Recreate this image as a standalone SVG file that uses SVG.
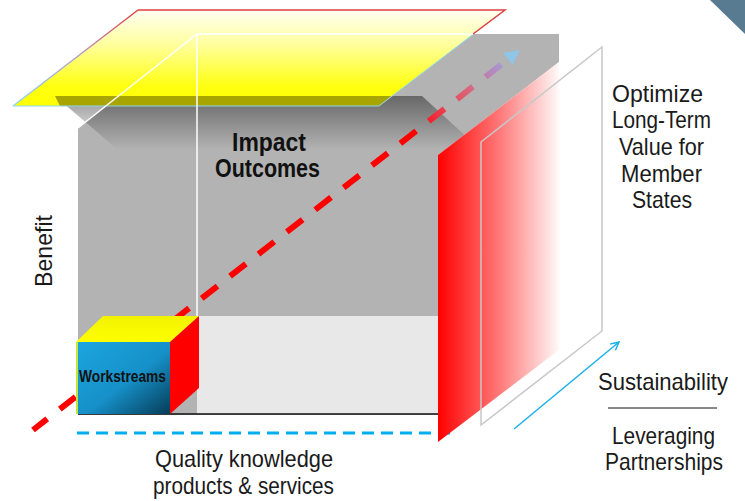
<svg xmlns="http://www.w3.org/2000/svg" width="745" height="501" viewBox="0 0 745 501">
<defs>
<style>
.t{font-family:"Liberation Sans",Arial,sans-serif;font-size:24px;fill:#1a1a1a}
.b{font-family:"Liberation Sans",Arial,sans-serif;font-weight:bold;fill:#111}
.wl{stroke:#ffffff;stroke-width:1.5;fill:none}
</style>
<linearGradient id="yel" x1="0" y1="0" x2="0" y2="1">
<stop offset="0" stop-color="#fffff2"/>
<stop offset="0.35" stop-color="#ffffa0"/>
<stop offset="0.8" stop-color="#ffff10"/>
<stop offset="1" stop-color="#ffff00"/>
</linearGradient>
<linearGradient id="edge" gradientUnits="userSpaceOnUse" x1="0" y1="10" x2="0" y2="106">
<stop offset="0" stop-color="#e04040"/>
<stop offset="0.5" stop-color="#b0a0d0"/>
<stop offset="1" stop-color="#8fd8ee"/>
</linearGradient>
<linearGradient id="shadow" gradientUnits="userSpaceOnUse" x1="0" y1="96" x2="0" y2="150">
<stop offset="0" stop-color="#000" stop-opacity="0.42"/>
<stop offset="1" stop-color="#000" stop-opacity="0"/>
</linearGradient>
<linearGradient id="redside" gradientUnits="userSpaceOnUse" x1="438" y1="0" x2="562" y2="0">
<stop offset="0" stop-color="#ff0000"/>
<stop offset="0.12" stop-color="#ff1e1e"/>
<stop offset="0.5" stop-color="#ff7a7a"/>
<stop offset="1" stop-color="#ffffff"/>
</linearGradient>
<linearGradient id="dash" gradientUnits="userSpaceOnUse" x1="33" y1="430" x2="520" y2="50">
<stop offset="0" stop-color="#ff0000"/>
<stop offset="0.79" stop-color="#ff0000"/>
<stop offset="0.83" stop-color="#ee3444"/>
<stop offset="0.89" stop-color="#dc6274"/>
<stop offset="0.95" stop-color="#b08ec6"/>
<stop offset="1" stop-color="#88c8f0"/>
</linearGradient>
<linearGradient id="blue" x1="0" y1="0" x2="1" y2="1">
<stop offset="0" stop-color="#1ca6e0"/>
<stop offset="0.55" stop-color="#1690c8"/>
<stop offset="1" stop-color="#063c58"/>
</linearGradient>
<linearGradient id="boxtop" x1="0" y1="0" x2="0" y2="1">
<stop offset="0" stop-color="#f2f200"/>
<stop offset="1" stop-color="#ffff00"/>
</linearGradient>
<marker id="ah" markerWidth="10" markerHeight="10" refX="9" refY="5" orient="auto" markerUnits="userSpaceOnUse">
<path d="M1,1 L9,5 L1,9" fill="none" stroke="#1ab0e8" stroke-width="1.5"/>
</marker>
</defs>
<rect width="745" height="501" fill="#ffffff"/>
<polygon points="710,0 745,0 745,34" fill="#587b92"/>

<g id="box">
<polygon points="78,128 197,34 559,34 559,62 438,155 438,415 78,415" fill="#b3b3b3"/>
<rect x="197" y="316" width="241" height="98" fill="#e8e8e8"/>
<line x1="78" y1="414" x2="438" y2="414" stroke="#111" stroke-width="1.5"/>
<polygon points="55,96 422,96 470,140 470,150 118,150" fill="url(#shadow)"/>
</g>

<g id="connectors">
<line x1="33" y1="430" x2="502" y2="64" stroke="url(#dash)" stroke-width="6" stroke-dasharray="20 16" stroke-dashoffset="2"/>
<polygon points="520,50 512.5,65 503,53" fill="#88c8f0" opacity="0.85"/>
<line x1="77" y1="433" x2="456" y2="433" stroke="#00aeef" stroke-width="3" stroke-dasharray="12 7"/>
<line x1="514" y1="429" x2="619" y2="342" stroke="#1ab0e8" stroke-width="1.5" marker-end="url(#ah)"/>
</g>

<g id="workstreams">
<polygon points="76,342 103,316 199,316 170,342" fill="url(#boxtop)"/>
<rect x="76" y="342" width="94" height="72" fill="url(#blue)"/>
<line x1="77" y1="342" x2="77" y2="414" stroke="#ffff00" stroke-width="1.5"/>
<polygon points="170,342 199,316 199,388 170,414" fill="#ff0000"/>
<text class="b" x="79" y="382" font-size="16" textLength="87" lengthAdjust="spacingAndGlyphs">Workstreams</text>
</g>

<g id="sidepanel">
<polygon points="438,155 559,62 559,350 438,442" fill="url(#redside)"/>
</g>

<g id="plane">
<polygon points="138,10 505,10 379,106 13,106" fill="url(#yel)"/>
<polygon points="55,96 392,96 379,106 60,106" fill="#a8a400"/>
<line x1="13" y1="106" x2="138" y2="10" stroke="url(#edge)" stroke-width="1.5"/>
<polyline points="13,106 379,106 505,10" fill="none" stroke="#8fd8ee" stroke-width="1"/>
<polyline points="138,10 505,10 473,34" fill="none" stroke="#e04040" stroke-width="1.5"/>
<polyline points="78,128 197,34 473,34" class="wl"/>
<line x1="197" y1="34" x2="197" y2="316" class="wl"/>
</g>

<g id="outline">
<polygon points="481,142 602,47 602,331 481,425" fill="none" stroke="#c8c8c8" stroke-width="1.5"/>
</g>

<g id="labels">
<text class="b" x="232" y="151" font-size="25" textLength="74" lengthAdjust="spacingAndGlyphs">Impact</text>
<text class="b" x="215" y="177" font-size="25" textLength="105" lengthAdjust="spacingAndGlyphs">Outcomes</text>
<text class="t" transform="translate(52,287) rotate(-90)" x="0" y="0" font-size="23" textLength="72" lengthAdjust="spacingAndGlyphs">Benefit</text>
<text class="t" x="612" y="102" textLength="91" lengthAdjust="spacingAndGlyphs">Optimize</text>
<text class="t" x="612" y="128" textLength="99" lengthAdjust="spacingAndGlyphs">Long-Term</text>
<text class="t" x="619" y="155" textLength="85" lengthAdjust="spacingAndGlyphs">Value for</text>
<text class="t" x="621" y="182" textLength="81" lengthAdjust="spacingAndGlyphs">Member</text>
<text class="t" x="632" y="208" textLength="60" lengthAdjust="spacingAndGlyphs">States</text>
<text class="t" x="598" y="390" textLength="130" lengthAdjust="spacingAndGlyphs">Sustainability</text>
<line x1="608" y1="408" x2="717" y2="408" stroke="#111" stroke-width="1"/>
<text class="t" x="612" y="444" textLength="103" lengthAdjust="spacingAndGlyphs">Leveraging</text>
<text class="t" x="605" y="470" textLength="118" lengthAdjust="spacingAndGlyphs">Partnerships</text>
<text class="t" x="155" y="467" font-size="22" textLength="178" lengthAdjust="spacingAndGlyphs">Quality knowledge</text>
<text class="t" x="153" y="494" font-size="22" textLength="181" lengthAdjust="spacingAndGlyphs">products &amp; services</text>
</g>
</svg>
